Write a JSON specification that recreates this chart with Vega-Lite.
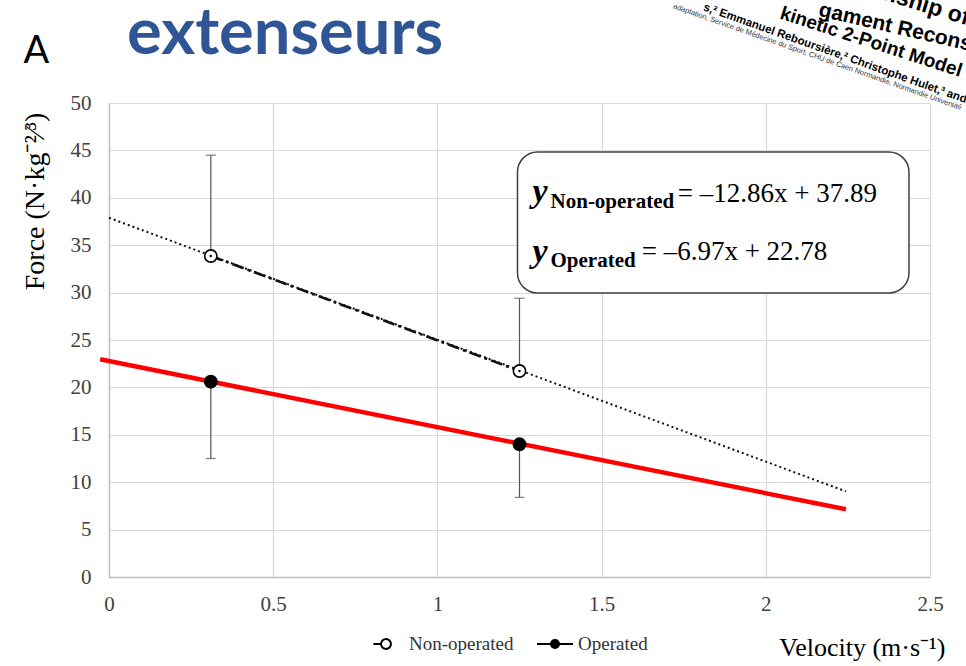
{
  "$schema": "https://vega.github.io/schema/vega-lite/v6.json",
  "width": 821,
  "height": 474,
  "autosize": {"type": "none"},
  "padding": {"left": 109, "top": 103, "right": 36, "bottom": 89},
  "background": "white",
  "config": {"view": {"stroke": null}},
  "datasets": {
    "pts": [
      {"velocity": 0.31, "force": 33.86, "group": "Non-operated", "err_lo": 33.86, "err_hi": 44.5, "cap": 44.5},
      {"velocity": 1.25, "force": 21.73, "group": "Non-operated", "err_lo": 21.73, "err_hi": 29.4, "cap": 29.4},
      {"velocity": 0.31, "force": 20.6, "group": "Operated", "err_lo": 12.5, "err_hi": 20.6, "cap": 12.5},
      {"velocity": 1.25, "force": 14.0, "group": "Operated", "err_lo": 8.4, "err_hi": 14.0, "cap": 8.4}
    ],
    "trend": [
      {"velocity": 0, "force": 37.89, "series": "Non-operated"},
      {"velocity": 2.244, "force": 9.03, "series": "Non-operated"},
      {"velocity": -0.027, "force": 22.97, "series": "Operated"},
      {"velocity": 2.244, "force": 7.14, "series": "Operated"}
    ]
  },
  "layer": [
    {
      "data": {"name": "pts"},
      "mark": {"type": "rule", "color": "#555555", "strokeWidth": 1.2},
      "encoding": {
        "x": {
          "field": "velocity", "type": "quantitative",
          "scale": {"domain": [0, 2.5], "nice": false, "zero": false},
          "axis": {
            "title": "Velocity (m·s⁻¹)",
            "values": [0, 0.5, 1, 1.5, 2, 2.5],
            "format": "~g",
            "grid": true, "gridColor": "#d9d9d9", "gridWidth": 1.2,
            "domainColor": "#bfbfbf", "domainWidth": 1.5,
            "ticks": false,
            "labelFont": "Liberation Serif", "labelFontSize": 21, "labelColor": "#404040",
            "labelPadding": 16, "labelFlush": false,
            "titleFont": "Liberation Serif", "titleFontSize": 26, "titleFontWeight": "normal", "titleColor": "#000000",
            "titleAlign": "right", "titleX": 836, "titleY": 78, "titleBaseline": "alphabetic"
          }
        },
        "y": {
          "field": "err_lo", "type": "quantitative",
          "scale": {"domain": [0, 50], "nice": false, "zero": false},
          "axis": {
            "title": "Force (N·kg⁻²⁄³)",
            "values": [0, 5, 10, 15, 20, 25, 30, 35, 40, 45, 50],
            "grid": true, "gridColor": "#d9d9d9", "gridWidth": 1.2,
            "domainColor": "#bfbfbf", "domainWidth": 1.5,
            "ticks": false,
            "labelFont": "Liberation Serif", "labelFontSize": 21, "labelColor": "#404040",
            "labelPadding": 18,
            "titleFont": "Liberation Serif", "titleFontSize": 28, "titleFontWeight": "normal", "titleColor": "#000000",
            "titleX": -66, "titleY": 98, "titleAlign": "center", "titleBaseline": "alphabetic", "titleAngle": 270
          }
        },
        "y2": {"field": "err_hi"}
      }
    },
    {
      "data": {"name": "pts"},
      "mark": {"type": "tick", "orient": "horizontal", "color": "#555555", "size": 10, "thickness": 1.3},
      "encoding": {
        "x": {"field": "velocity", "type": "quantitative"},
        "y": {"field": "cap", "type": "quantitative"}
      }
    },
    {
      "data": {"name": "trend"},
      "transform": [{"filter": "datum.series === 'Non-operated'"}],
      "mark": {"type": "line", "color": "#111111", "strokeWidth": 2, "strokeDash": [2, 3]},
      "encoding": {
        "x": {"field": "velocity", "type": "quantitative"},
        "y": {"field": "force", "type": "quantitative"}
      }
    },
    {
      "data": {"name": "pts"},
      "transform": [{"filter": "datum.group === 'Non-operated'"}],
      "mark": {"type": "line", "color": "#111111", "strokeWidth": 2.6, "strokeDash": [12, 4, 3, 4]},
      "encoding": {
        "x": {"field": "velocity", "type": "quantitative"},
        "y": {"field": "force", "type": "quantitative"}
      }
    },
    {
      "data": {"name": "trend"},
      "transform": [{"filter": "datum.series === 'Operated'"}],
      "mark": {"type": "line", "color": "#ff0000", "strokeWidth": 4.5},
      "encoding": {
        "x": {"field": "velocity", "type": "quantitative"},
        "y": {"field": "force", "type": "quantitative"}
      }
    },
    {
      "data": {"name": "pts"},
      "mark": {"type": "point", "filled": true, "size": 0, "strokeWidth": 2, "opacity": 1},
      "encoding": {
        "x": {"field": "velocity", "type": "quantitative"},
        "y": {"field": "force", "type": "quantitative"},
        "fill": {
          "field": "group", "type": "nominal",
          "scale": {"domain": ["Non-operated", "Operated"], "range": ["#ffffff", "#000000"]},
          "legend": {
            "title": null, "orient": "none", "legendX": 267, "legendY": 531, "direction": "horizontal",
            "labelFont": "Liberation Serif", "labelFontSize": 19, "labelColor": "#333333",
            "symbolSize": 324, "symbolStrokeWidth": 2, "symbolOpacity": 1,
            "labelOffset": 13, "columnPadding": 19
          }
        },
        "stroke": {
          "field": "group", "type": "nominal",
          "scale": {"domain": ["Non-operated", "Operated"], "range": ["#000000", "#000000"]},
          "legend": {
            "title": null, "orient": "none", "legendX": 267, "legendY": 531, "direction": "horizontal",
            "labelFont": "Liberation Serif", "labelFontSize": 19, "labelColor": "#333333",
            "symbolSize": 324, "symbolStrokeWidth": 2, "symbolOpacity": 1,
            "labelOffset": 13, "columnPadding": 19
          }
        },
        "shape": {
          "field": "group", "type": "nominal",
          "scale": {"domain": ["Non-operated", "Operated"], "range": ["M-1.4,0L-0.55,0M0.55,0A0.55,0.55,0,1,1,-0.55,0A0.55,0.55,0,1,1,0.55,0", "M-2,0L2,0M0.45,0A0.45,0.45,0,1,1,-0.45,0A0.45,0.45,0,1,1,0.45,0"]},
          "legend": {
            "title": null, "orient": "none", "legendX": 267, "legendY": 531, "direction": "horizontal",
            "labelFont": "Liberation Serif", "labelFontSize": 19, "labelColor": "#333333",
            "symbolSize": 324, "symbolStrokeWidth": 2, "symbolOpacity": 1,
            "labelOffset": 13, "columnPadding": 19
          }
        }
      }
    },
    {
      "data": {"name": "pts"},
      "mark": {"type": "point", "shape": "circle", "filled": true, "size": 150, "stroke": "#000000", "strokeWidth": 1.6, "opacity": 1},
      "encoding": {
        "x": {"field": "velocity", "type": "quantitative"},
        "y": {"field": "force", "type": "quantitative"},
        "fill": {"field": "group", "type": "nominal", "legend": null}
      }
    },
    {
      "data": {"name": "pts"},
      "transform": [{"filter": "datum.group === 'Non-operated'"}],
      "mark": {"type": "point", "shape": "circle", "filled": true, "size": 6, "color": "#000000", "opacity": 1},
      "encoding": {
        "x": {"field": "velocity", "type": "quantitative"},
        "y": {"field": "force", "type": "quantitative"}
      }
    },
    {
      "data": {"values": [{}]},
      "mark": {"type": "rect", "fill": "#ffffff", "stroke": "#404040", "strokeWidth": 1.5, "cornerRadius": 20},
      "encoding": {
        "x": {"datum": 1.2439}, "x2": {"datum": 2.436},
        "y": {"datum": 44.83}, "y2": {"datum": 29.96}
      }
    },
    {
      "data": {"values": [{}]},
      "mark": {"type": "text", "text": "y", "font": "Liberation Serif", "fontSize": 34, "fontWeight": "bold", "fontStyle": "italic", "color": "#000000", "align": "left", "baseline": "alphabetic"},
      "encoding": {"x": {"datum": 1.2896}, "y": {"datum": 39.56}}
    },
    {
      "data": {"values": [{}]},
      "mark": {"type": "text", "text": "Non-operated", "font": "Liberation Serif", "fontSize": 21, "fontWeight": "bold", "color": "#000000", "align": "left", "baseline": "alphabetic"},
      "encoding": {"x": {"datum": 1.3445}, "y": {"datum": 38.92}}
    },
    {
      "data": {"values": [{}]},
      "mark": {"type": "text", "text": "= –12.86x + 37.89", "font": "Liberation Serif", "fontSize": 27, "color": "#000000", "align": "left", "baseline": "alphabetic"},
      "encoding": {"x": {"datum": 1.7317}, "y": {"datum": 39.56}}
    },
    {
      "data": {"values": [{}]},
      "mark": {"type": "text", "text": "y", "font": "Liberation Serif", "fontSize": 34, "fontWeight": "bold", "fontStyle": "italic", "color": "#000000", "align": "left", "baseline": "alphabetic"},
      "encoding": {"x": {"datum": 1.2896}, "y": {"datum": 33.23}}
    },
    {
      "data": {"values": [{}]},
      "mark": {"type": "text", "text": "Operated", "font": "Liberation Serif", "fontSize": 21, "fontWeight": "bold", "color": "#000000", "align": "left", "baseline": "alphabetic"},
      "encoding": {"x": {"datum": 1.3445}, "y": {"datum": 32.7}}
    },
    {
      "data": {"values": [{}]},
      "mark": {"type": "text", "text": "= –6.97x + 22.78", "font": "Liberation Serif", "fontSize": 27, "color": "#000000", "align": "left", "baseline": "alphabetic"},
      "encoding": {"x": {"datum": 1.622}, "y": {"datum": 33.44}}
    },
    {
      "data": {"values": [{}]},
      "mark": {"type": "text", "text": "extenseurs", "font": "Lato", "fontSize": 65, "fontWeight": "bold", "color": "#2f5597", "align": "left", "baseline": "alphabetic"},
      "encoding": {"x": {"datum": 0.0549}, "y": {"datum": 55.2}}
    },
    {
      "data": {"values": [{}]},
      "mark": {"type": "text", "text": "A", "font": "Lato", "fontSize": 38, "color": "#000000", "align": "center", "baseline": "alphabetic"},
      "encoding": {"x": {"datum": -0.221}, "y": {"datum": 54.22}}
    },
    {
      "data": {"values": [{}]},
      "mark": {"type": "text", "text": "Relationship of", "font": "Liberation Sans", "fontSize": 23, "fontWeight": "bold", "color": "#000000", "align": "right", "baseline": "alphabetic", "angle": 17},
      "encoding": {"x": {"datum": 2.6128}, "y": {"datum": 58.2}}
    },
    {
      "data": {"values": [{}]},
      "mark": {"type": "text", "text": "gament Reconstruction", "font": "Liberation Sans", "fontSize": 21, "fontWeight": "bold", "color": "#000000", "align": "left", "baseline": "alphabetic", "angle": 13},
      "encoding": {"x": {"datum": 2.1585}, "y": {"datum": 59.2}}
    },
    {
      "data": {"values": [{}]},
      "mark": {"type": "text", "text": "kinetic 2-Point Model", "font": "Liberation Sans", "fontSize": 19, "fontWeight": "bold", "color": "#000000", "align": "left", "baseline": "alphabetic", "angle": 18},
      "encoding": {"x": {"datum": 2.04}, "y": {"datum": 58.95}}
    },
    {
      "data": {"values": [{}]},
      "mark": {"type": "text", "text": "s,² Emmanuel Reboursière,² Christophe Hulet,³ and", "font": "Liberation Sans", "fontSize": 11.5, "fontWeight": "bold", "color": "#000000", "align": "left", "baseline": "alphabetic", "angle": 19.5},
      "encoding": {"x": {"datum": 1.808}, "y": {"datum": 59.81}}
    },
    {
      "data": {"values": [{}]},
      "mark": {"type": "text", "text": "adaptation, Service de Médecine du Sport, CHU de Caen Normandie, Normandie Université", "font": "Liberation Sans", "fontSize": 7.5, "color": "#333333", "align": "left", "baseline": "alphabetic", "angle": 19.5},
      "encoding": {"x": {"datum": 1.7165}, "y": {"datum": 60.02}}
    }
  ]
}
